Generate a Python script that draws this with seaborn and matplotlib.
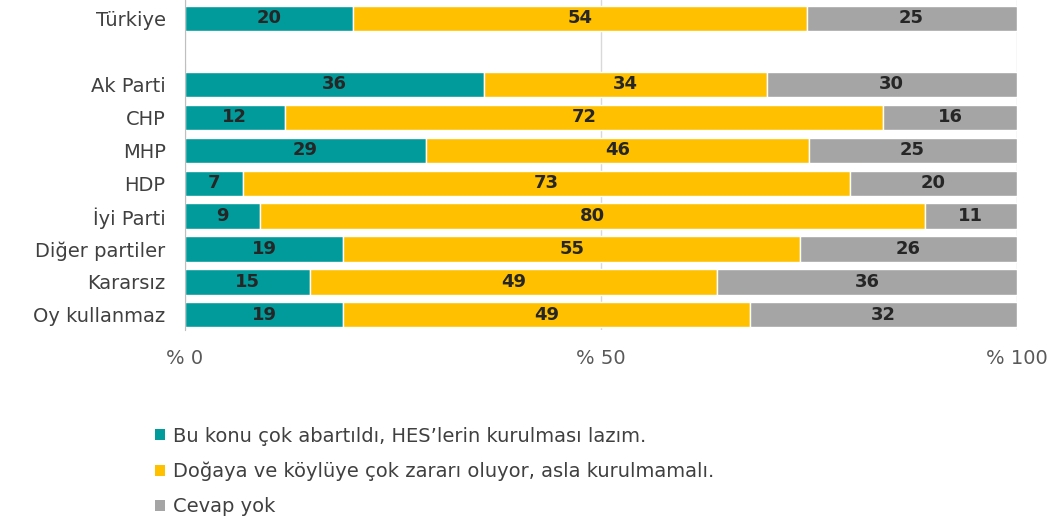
import matplotlib
matplotlib.use("Agg")
import matplotlib.pyplot as plt
from matplotlib.patches import Patch
import numpy as np
import pandas as pd
import seaborn as sns

categories = ["Türkiye", " ", "Ak Parti", "CHP", "MHP", "HDP", "İyi Parti",
              "Diğer partiler", "Kararsız", "Oy kullanmaz"]
yapilsin = [20, 0, 36, 12, 29, 7, 9, 19, 15, 19]
kurulmasin = [54, 0, 34, 72, 46, 73, 80, 55, 49, 49]
cevap_yok = [25, 0, 30, 16, 25, 20, 11, 26, 36, 32]
series_names = ["Bu konu çok abartıldı, HES’lerin kurulması lazım.",
                "Doğaya ve köylüye çok zararı oluyor, asla kurulmamalı.",
                "Cevap yok"]
colors = ["#009B9A", "#FFC000", "#A5A5A5"]
xticks = [0, 50, 100]
xtick_labels = ["% 0", "% 50", "% 100"]

sns.set_style("white")
plt.rcParams["font.family"] = ["DejaVu Sans"]

fig = plt.figure(figsize=(10.6, 5.26), dpi=100)
ax = fig.add_axes([0.1745, 0.373, 0.7845, 0.627])

df = pd.DataFrame({"cat": categories, "a": yapilsin, "b": kurulmasin, "c": cevap_yok})
# 100% stacked: widths are shares of the row total
totals = df[["a", "b", "c"]].sum(axis=1).replace(0, 1)
for col in ["a", "b", "c"]:
    df[col + "_pct"] = df[col] / totals * 100

left = np.zeros(len(df))
for col, color in zip(["a", "b", "c"], colors):
    sns.barplot(data=df, y="cat", x=col + "_pct", orient="h", color=color, left=left,
                width=0.76, saturation=1, ax=ax, zorder=3)
    cont = ax.containers[-1]
    labels = [str(v) if v > 0 else "" for v in df[col]]
    ax.bar_label(cont, labels=labels, label_type="center", fontsize=13,
                 fontweight="bold", color="#262626")
    left = left + df[col + "_pct"].to_numpy()

ax.set_xlim(0, 100)
ax.set_ylim(len(categories) - 0.55, -0.55)
ax.set_xticks(xticks)
ax.set_xticklabels(xtick_labels, fontsize=14, color="#595959")
ax.tick_params(axis="x", length=0, pad=14)
ax.tick_params(axis="y", length=0, pad=14, labelsize=14, labelcolor="#404040")
ax.set_xlabel("")
ax.set_ylabel("")
ax.xaxis.grid(True, color="#D9D9D9", linewidth=1, zorder=0)
for s in ["top", "right", "bottom"]:
    ax.spines[s].set_visible(False)
ax.spines["left"].set_color("#BFBFBF")
ax.spines["left"].set_zorder(4)

handles = [Patch(facecolor=c, edgecolor="none") for c in colors]
fig.legend(handles, series_names, loc="upper left", bbox_to_anchor=(0.13, 0.222),
           frameon=False, fontsize=14, handlelength=0.5, handleheight=0.5,
           handletextpad=0.4, labelspacing=0.82, labelcolor="#404040")

fig.savefig("out.png", dpi=100)
